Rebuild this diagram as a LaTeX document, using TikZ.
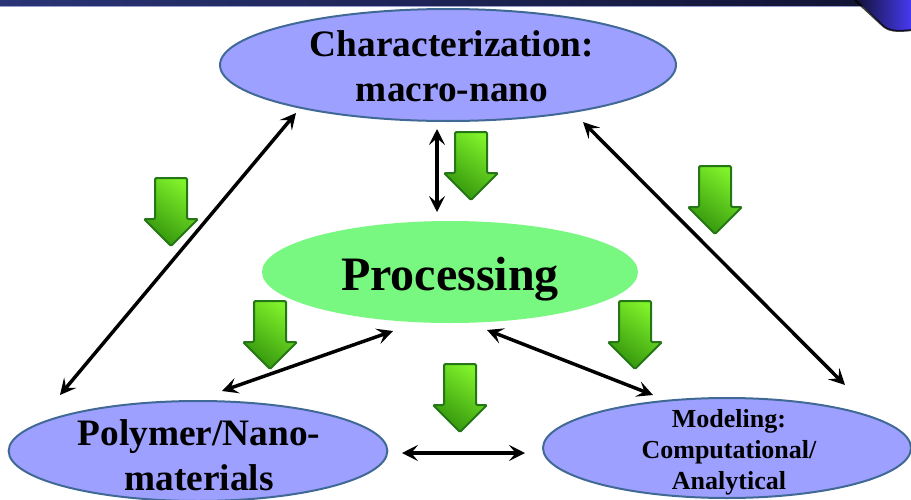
\documentclass[tikz,border=0pt]{standalone}
\usepackage{fontspec}
\setmainfont{Liberation Serif}
\usetikzlibrary{arrows.meta,shapes.geometric}
\definecolor{ellfill}{RGB}{157,160,255}
\definecolor{ellline}{RGB}{65,105,150}
\definecolor{procfill}{RGB}{120,248,128}
\definecolor{glight}{RGB}{128,242,42}
\definecolor{gdark}{RGB}{50,148,12}
\definecolor{gline}{RGB}{36,118,22}
\definecolor{navyA}{RGB}{42,52,118}
\definecolor{navyB}{RGB}{16,18,48}
\definecolor{bandline}{RGB}{150,160,205}
\definecolor{blobblue}{RGB}{72,58,245}
\begin{document}
\begin{tikzpicture}[x=0.75pt,y=-0.75pt,
  bubble/.style={ellipse, draw=ellline, line width=1.5pt, fill=ellfill, inner sep=0pt},
  procbubble/.style={ellipse, fill=procfill, inner sep=0pt},
  lbl/.style={align=center, font=\bfseries, inner sep=0pt},
  conn/.style={line width=2.6pt, {Stealth[length=12pt,width=12pt,inset=5pt]}-{Stealth[length=12pt,width=12pt,inset=5pt]}},
  gdown/.pic={\draw[line width=1.5pt, draw=gline, rounded corners=1pt, top color=glight, bottom color=gdark, shading angle=-35]
     (-16,0) -- (16,0) -- (16,41) -- (27,41) -- (0,68) -- (-27,41) -- (-16,41) -- cycle;}
]
\useasboundingbox (0,0) rectangle (911,500);
\clip (0,0) rectangle (911,500);
% top band
\fill[left color=navyA, right color=navyB] (0,-2) rectangle (911,6);
\draw[bandline, line width=0.6pt] (0,6.5) -- (911,6.5);
% top-right blob
\fill[left color=navyB, right color=blobblue] (855,-2) -- (882,25) .. controls (888,31) and (896,32) .. (912,30) -- (912,-2) -- cycle;
\draw[black, line width=1.5pt, opacity=0.75] (855,0) -- (882,25) .. controls (888,31) and (896,32) .. (912,30);

% ellipses
\node[bubble, minimum width=342pt, minimum height=84pt] (char) at (448,65) {};
\node[lbl, font=\bfseries\fontsize{28}{34}\selectfont] (charT) at (452,66) {Characterization:\\macro-nano};
\node[procbubble, minimum width=282pt, minimum height=76.5pt] (proc) at (450,272) {};
\node[lbl, font=\bfseries\fontsize{36}{45}\selectfont] (procT) at (450,279) {Processing};
\node[bubble, minimum width=284pt, minimum height=75pt] (poly) at (198,451) {};
\node[lbl, font=\bfseries\fontsize{28}{34}\selectfont] (polyT) at (199,455) {Polymer/Nano-\\materials};
\node[bubble, minimum width=276pt, minimum height=75pt] (model) at (727,448) {};
\node[lbl, font=\bfseries\fontsize{19.5}{23.2}\selectfont] (modelT) at (729,452) {Modeling:\\Computational/\\Analytical};

% connector end points
\coordinate (polyTop) at (60,395);
\coordinate (charLeft) at (296,113);
\coordinate (charRight) at (583,122);
\coordinate (modelTop) at (845,385);
\coordinate (charBot) at (437,129);
\coordinate (procTop) at (437,212);
\coordinate (polyRight) at (222,391);
\coordinate (procLeft) at (393,331);
\coordinate (procRight) at (487,330);
\coordinate (modelLeft) at (653,395);
\coordinate (polyEnd) at (402,453);
\coordinate (modelEnd) at (525,453);

\draw[conn] (polyTop) -- (charLeft);
\draw[conn] (charRight) -- (modelTop);
\draw[conn] (charBot) -- (procTop);
\draw[conn] (polyRight) -- (procLeft);
\draw[conn] (procRight) -- (modelLeft);
\draw[conn] (polyEnd) -- (modelEnd);

% green down arrows
\pic at (471,132) {gdown};
\pic at (171,178) {gdown};
\pic at (715,166) {gdown};
\pic at (270,301) {gdown};
\pic at (635,301) {gdown};
\pic at (460,364) {gdown};
\end{tikzpicture}
\end{document}
